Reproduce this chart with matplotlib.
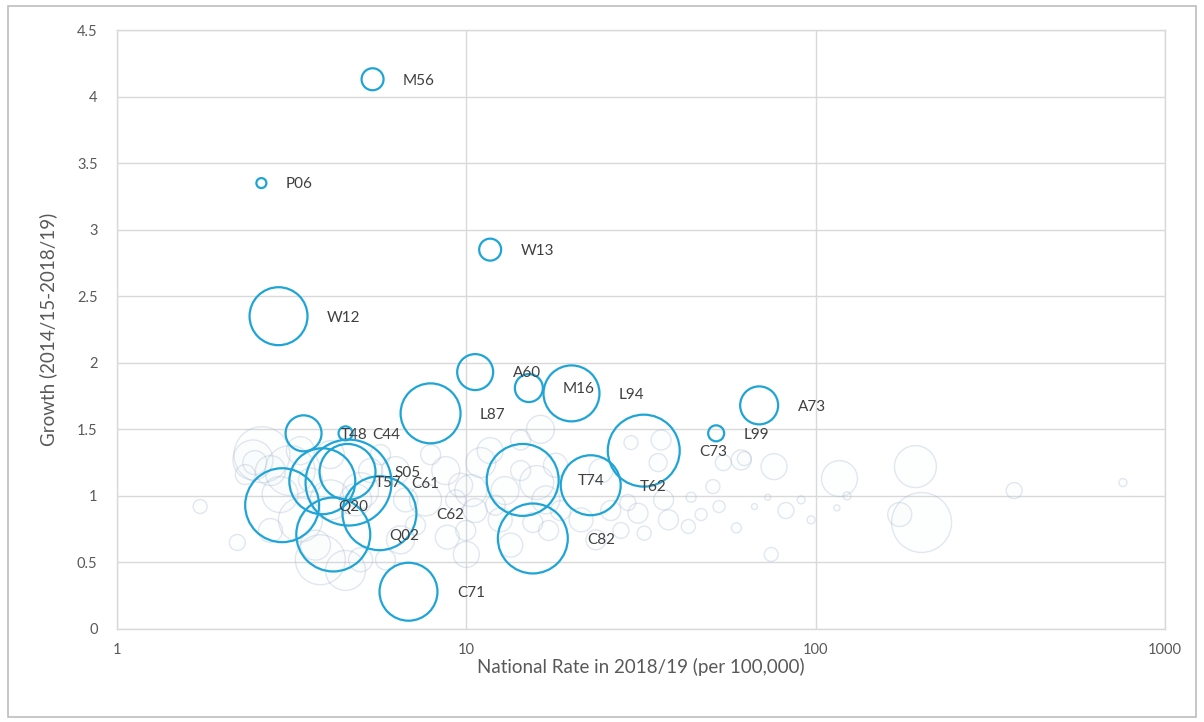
import matplotlib
matplotlib.use("Agg")
import matplotlib.pyplot as plt
from matplotlib.ticker import FixedLocator, FuncFormatter, NullLocator
from matplotlib.patches import Rectangle
import numpy as np

plt.rcParams['font.family'] = ['Lato', 'DejaVu Sans']

# Highlighted specialties
codes = ["M56", "P06", "W13", "W12", "A60", "M16", "L94", "L87", "A73", "L99",
         "C73", "T62", "T74", "C82", "C71", "T48", "C44", "S05", "T57", "C61",
         "Q20", "Q02", "C62"]
rate = [5.39, 2.59, 11.7, 2.90, 10.6, 15.1, 20.0, 7.90, 68.9, 51.9,
        32.2, 22.7, 14.5, 15.5, 6.83, 3.42, 4.51, 4.57, 3.87, 4.60,
        2.97, 4.16, 5.64]
growth = [4.13, 3.35, 2.85, 2.35, 1.93, 1.81, 1.77, 1.62, 1.68, 1.47,
          1.34, 1.08, 1.12, 0.68, 0.28, 1.47, 1.47, 1.18, 1.11, 1.10,
          0.93, 0.71, 0.87]
volume = [121, 25, 121, 841, 324, 196, 784, 900, 361, 64,
          1296, 900, 1296, 1225, 841, 324, 49, 784, 1089, 1849,
          1369, 1369, 1369]

# Remaining (background) specialties
bg_rate = [1.73, 2.21, 2.45, 2.48, 2.60, 2.75, 2.33, 3.13, 3.35, 2.93,
           3.35, 2.75, 3.82, 4.51, 4.98, 3.70, 4.08, 4.82, 5.32, 5.68,
           6.27, 6.70, 7.15, 6.48, 5.87, 7.90, 8.73, 9.63, 9.32, 10.3,
           10.6, 9.96, 10.0, 8.82, 11.0, 11.7, 12.1, 12.9, 12.5, 14.3,
           15.9, 15.5, 16.9, 18.0, 18.6, 17.2, 13.4, 14.3, 16.3, 29.6,
           35.4, 29.0, 31.0, 36.7, 37.9, 43.2, 32.3, 50.8, 52.9, 62.5,
           54.4, 66.8, 24.3, 25.9, 21.3, 23.5, 27.7, 47.0, 44.0, 59.3,
           76.0, 82.2, 74.6, 72.9, 117, 123, 115, 193, 201, 174,
           370, 758, 61.2, 90.9, 97.0, 36.1, 4.98, 3.58, 4.08, 7.64]
bg_growth = [0.92, 0.65, 1.27, 1.25, 1.31, 1.19, 1.16, 1.19, 1.34, 1.01,
             0.82, 0.74, 0.52, 0.44, 0.52, 0.63, 0.97, 0.97, 1.19, 1.31,
             1.19, 0.97, 0.78, 0.67, 0.52, 1.31, 1.19, 1.08, 0.97, 1.04,
             0.89, 0.74, 0.56, 0.69, 1.25, 1.34, 0.93, 1.04, 0.82, 1.19,
             1.10, 0.80, 0.97, 1.23, 0.89, 0.74, 0.63, 1.42, 1.50, 1.40,
             1.25, 0.95, 0.87, 0.97, 0.82, 0.77, 0.72, 1.07, 0.92, 1.28,
             1.25, 0.92, 1.19, 0.89, 0.82, 0.67, 0.74, 0.86, 0.99, 0.76,
             1.22, 0.89, 0.56, 0.99, 1.13, 1.00, 0.91, 1.22, 0.80, 0.86,
             1.04, 1.10, 1.27, 0.97, 0.82, 1.42, 1.04, 1.12, 1.31, 0.97]
bg_volume = [49, 64, 400, 144, 784, 225, 100, 625, 196, 324,
             484, 144, 625, 400, 144, 225, 400, 256, 144, 100,
             196, 144, 100, 196, 100, 100, 196, 144, 100, 256,
             144, 100, 169, 144, 225, 169, 100, 196, 144, 100,
             289, 100, 196, 144, 100, 100, 144, 100, 196, 49,
             81, 64, 100, 100, 100, 49, 49, 49, 36, 49,
             64, 9, 144, 100, 144, 100, 64, 36, 25, 25,
             169, 64, 49, 9, 324, 16, 9, 441, 900, 144,
             64, 16, 100, 16, 16, 100, 324, 144, 196, 256]

x_ticks = [1, 10, 100, 1000]
x_tick_labels = ["1", "10", "100", "1000"]
y_ticks = [0, 0.5, 1, 1.5, 2, 2.5, 3, 3.5, 4, 4.5]
y_tick_labels = ["0", "0.5", "1", "1.5", "2", "2.5", "3", "3.5", "4", "4.5"]

SIZE_SCALE = 2.07  # volume -> marker area (points^2)

fig = plt.figure(figsize=(12.04, 7.22), dpi=100)
fig.patch.set_facecolor("white")
fig.patches.append(Rectangle((8 / 1204, 5 / 722), 1188 / 1204, 711 / 722,
                             transform=fig.transFigure, fill=False,
                             edgecolor="#bdbdbd", linewidth=1.2))

ax = fig.add_axes([117 / 1204, 93 / 722, 1048 / 1204, 599 / 722])
ax.set_xscale("log")
ax.set_xlim(1, 1000)
ax.set_ylim(0, 4.5)

ax.xaxis.set_major_locator(FixedLocator(x_ticks))
ax.xaxis.set_minor_locator(NullLocator())
ax.xaxis.set_major_formatter(FuncFormatter(lambda v, p: x_tick_labels[x_ticks.index(v)] if v in x_ticks else ""))
ax.yaxis.set_major_locator(FixedLocator(y_ticks))
ax.set_yticklabels(y_tick_labels)

ax.grid(True, which="major", color="#d9d9d9", linewidth=1.0)
ax.set_axisbelow(True)
for s in ax.spines.values():
    s.set_color("#d9d9d9")
    s.set_linewidth(1.0)
ax.tick_params(axis="both", length=0, labelsize=10.5, labelcolor="#595959")
ax.tick_params(axis="x", pad=10)
ax.tick_params(axis="y", pad=14)

# background bubbles
ax.scatter(bg_rate, bg_growth, s=np.array(bg_volume) * SIZE_SCALE,
           facecolors=(0.85, 0.91, 0.97, 0.04), edgecolors=(0.62, 0.70, 0.80, 0.30),
           linewidths=1.0, zorder=2)

# highlighted bubbles
sizes = np.array(volume) * SIZE_SCALE
ax.scatter(rate, growth, s=sizes, facecolors="none", edgecolors="#1ea5d6",
           linewidths=1.6, zorder=3)

for c, xv, yv, sz in zip(codes, rate, growth, sizes):
    r_pt = np.sqrt(sz) / 2
    ax.annotate(c, (xv, yv), xytext=(r_pt + 14, -1), textcoords="offset points",
                ha="left", va="center", fontsize=11, color="#404040", zorder=4)

ax.set_xlabel("National Rate in 2018/19 (per 100,000)", fontsize=13.5, color="#595959", labelpad=1)
ax.set_ylabel("Growth (2014/15-2018/19)", fontsize=13.5, color="#595959", labelpad=14)

fig.savefig("out.png", dpi=100)
